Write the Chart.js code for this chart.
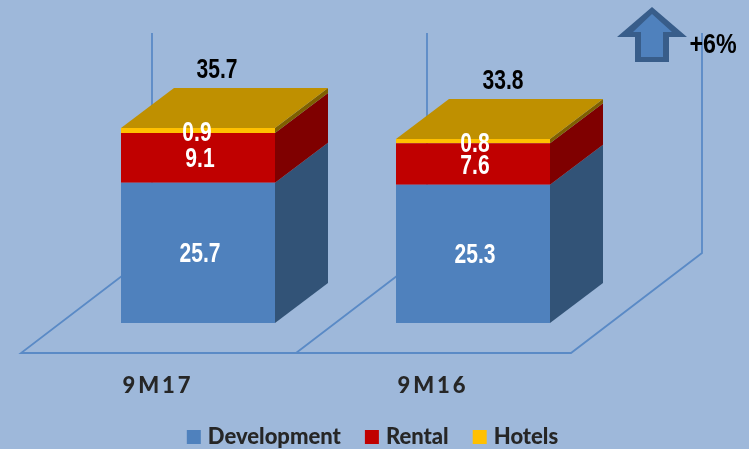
<!DOCTYPE html>
<html><head><meta charset="utf-8">
<script src="https://cdn.jsdelivr.net/npm/chart.js@4"></script>
<style>html,body{margin:0;padding:0;background:#9EB8DA}canvas{display:block}</style>
</head><body><canvas id="c" width="749" height="449"></canvas>
<script>
const categories = ['9M17', '9M16'];
const development = [25.7, 25.3];
const rental = [9.1, 7.6];
const hotels = [0.9, 0.8];
const totals = ['35.7', '33.8'];
const changeLabel = '+6%';
const sideColors = ['#325377', '#7F0000', '#7F6000'];
const topColor = '#BF9000';
const lineColor = '#5A8AC6';
const NUM_FONT = 'bold 27px "Liberation Sans",sans-serif';

function poly(ctx, pts, fill){
  ctx.beginPath();
  pts.forEach((p,i)=> i?ctx.lineTo(p[0],p[1]):ctx.moveTo(p[0],p[1]));
  ctx.closePath(); ctx.fillStyle = fill; ctx.fill();
}
function narrow(ctx, t, x, y, sx){
  ctx.save(); ctx.translate(x,y); ctx.scale(sx||0.78,1); ctx.fillText(t,0,0); ctx.restore();
}
const DX = 53, DY = -40;
const deco = {
  id:'deco',
  beforeDraw(chart){
    const ctx = chart.ctx;
    ctx.save(); ctx.fillStyle='#9EB8DA'; ctx.fillRect(0,0,chart.width,chart.height); ctx.restore();
    ctx.letterSpacing = '3px';
  },
  beforeDatasetsDraw(chart){
    const ctx = chart.ctx;
    ctx.letterSpacing = '0px';
    const b0 = chart.getDatasetMeta(0).data;
    const base = b0[0].base, l1 = b0[0].x-b0[0].width/2, l2 = b0[1].x-b0[1].width/2;
    const fy = base+30, by = base-70, ty = base-290;
    ctx.save();
    ctx.strokeStyle = lineColor; ctx.lineWidth = 1.8;
    ctx.beginPath();
    ctx.moveTo(l1+31,ty); ctx.lineTo(l1+31,by); ctx.lineTo(l1-100,fy); ctx.lineTo(l2+175,fy); ctx.lineTo(l2+306,by); ctx.lineTo(l2+306,ty);
    ctx.moveTo(l2+31,ty); ctx.lineTo(l2+31,by); ctx.lineTo(l2-100,fy);
    ctx.stroke();
    ctx.restore();
    chart.data.datasets.forEach((ds,i)=>{
      chart.getDatasetMeta(i).data.forEach(el=>{
        const r = el.x+el.width/2, t = el.y, bt = el.base;
        poly(ctx,[[r,bt],[r,t],[r+DX,t+DY],[r+DX,bt+DY]],sideColors[i]);
        if(i===chart.data.datasets.length-1){
          const l = el.x-el.width/2;
          poly(ctx,[[l,t],[r,t],[r+DX,t+DY],[l+DX,t+DY]],topColor);
        }
      });
    });
  },
  afterDatasetsDraw(chart){
    const ctx = chart.ctx;
    ctx.save();
    ctx.font = NUM_FONT; ctx.textAlign='center'; ctx.textBaseline='middle'; ctx.fillStyle='#fff';
    chart.data.datasets.forEach((ds,i)=>{
      chart.getDatasetMeta(i).data.forEach((el,j)=>{
        const dx = i===2 ? (j?2:-1) : 2;
        const dy = i===2 ? 3 : 2;
        narrow(ctx, ds.data[j].toFixed(1), el.x+dx, (el.y+el.base)/2+dy);
      });
    });
    ctx.fillStyle='#000';
    const top = chart.getDatasetMeta(2).data;
    top.forEach((el,j)=>{ narrow(ctx, totals[j], el.x+(j?30:19), el.y+(j?-57:-58)); });
    poly(ctx,[[652,7],[687,37],[669,37],[669,62],[635,62],[635,37],[617,37]],'#385D8A');
    poly(ctx,[[652,14],[672,32],[663,32],[663,57],[641,57],[641,32],[633,32]],'#4F81BD');
    ctx.fillStyle='#000';
    narrow(ctx, changeLabel, 713, 46, 0.86);
    ctx.restore();
  },
  afterLayout(chart){
    const lg = chart.legend, orig = lg.draw;
    if(lg._wrapped) return;
    lg._wrapped = true;
    lg.draw = function(){ const c=this.ctx; c.save(); c.letterSpacing='0px'; orig.call(this); c.restore(); };
  }
};
new Chart(document.getElementById('c'),{
  type:'bar',
  data:{labels:categories,datasets:[
    {label:'Development',data:development,backgroundColor:'#4F81BD'},
    {label:'Rental',data:rental,backgroundColor:'#C00000'},
    {label:'Hotels',data:hotels,backgroundColor:'#FFC000'}
  ]},
  options:{
    responsive:false,animation:false,
    layout:{padding:{top:50,bottom:-9,left:0,right:0}},
    datasets:{bar:{barPercentage:0.56,categoryPercentage:1}},
    scales:{
      x:{stacked:true,grid:{display:false},border:{display:false},
         afterFit(s){s.height=75;},
         ticks:{labelOffset:-40,padding:42,color:'#262626',maxRotation:0,font:{family:'Lato',weight:'900',size:22}}},
      y:{stacked:true,min:0,max:50,afterFit(s){s.width=60.5;},grid:{display:false},border:{display:false},ticks:{display:false}},
      y2:{position:'right',min:0,max:50,afterFit(s){s.width=138.5;},grid:{display:false},border:{display:false},ticks:{display:false}}
    },
    plugins:{
      tooltip:{enabled:false},
      legend:{position:'bottom',labels:{boxWidth:6,boxHeight:6,padding:28,color:'#262626',font:{family:'Lato',weight:'900',size:22,lineHeight:1},
        generateLabels(chart){
          return Chart.defaults.plugins.legend.labels.generateLabels(chart).map(it=>Object.assign(it,{strokeStyle:it.fillStyle,lineWidth:8,lineJoin:'miter'}));
        }}}
    }
  },
  plugins:[deco]
});
</script></body></html>
